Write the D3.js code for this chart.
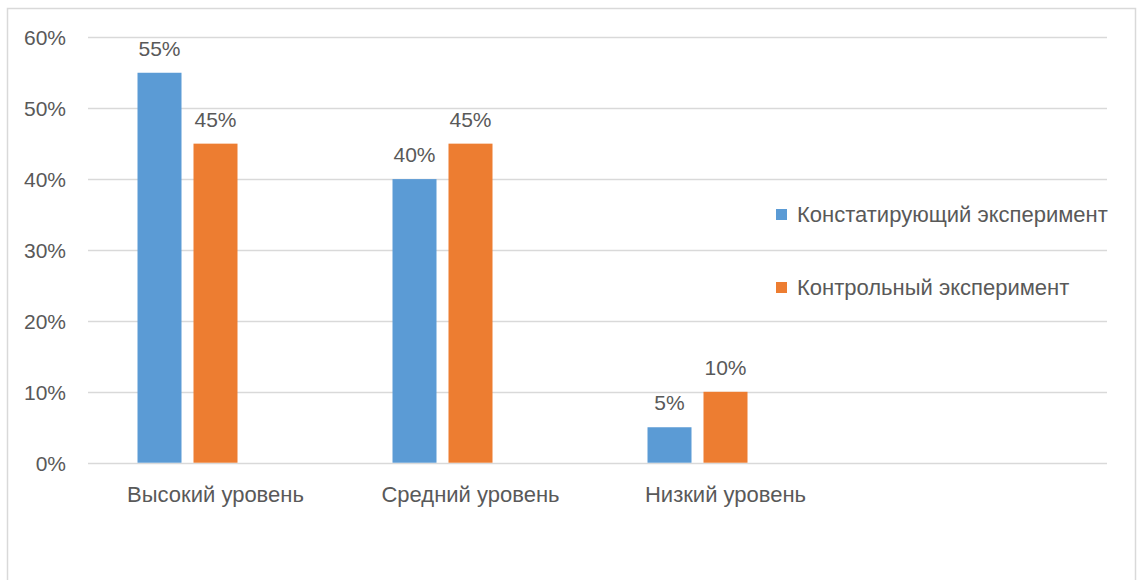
<!DOCTYPE html>
<html><head><meta charset="utf-8">
<script src="https://cdn.jsdelivr.net/npm/d3@7"></script>
<style>body{margin:0;background:#fff}svg text{font-family:"Liberation Sans","Noto Sans",sans-serif;fill:#595959}</style>
</head><body><svg id="c" width="1137" height="580"></svg>
<script>
const categories = ["Высокий уровень", "Средний уровень", "Низкий уровень"];
const seriesNames = ["Констатирующий эксперимент", "Контрольный эксперимент"];
const seriesConst = [0.55, 0.40, 0.05];
const seriesControl = [0.45, 0.45, 0.10];
const colors = ["#5B9BD5", "#ED7D31"];
const yTicks = [0, 0.1, 0.2, 0.3, 0.4, 0.5, 0.6];
const FS = "21px", FS2 = "22px";

const svg = d3.select("#c");
svg.append("rect").attr("x",7.5).attr("y",8.5).attr("width",1128).attr("height",600)
  .attr("fill","#fff").attr("stroke","#d9d9d9").attr("stroke-width",1.5);

const left = 88, bandW = 255, gridRight = 1107;
const x0 = d3.scaleBand().domain(categories).range([left, left + bandW*categories.length]).paddingInner(0).paddingOuter(0);
const x1 = d3.scaleBand().domain([0,1,2]).range([0, bandW]).paddingInner(12/56).paddingOuter(0.884);
const y = d3.scaleLinear().domain([0, 0.6]).range([462.7, 37.3]);

svg.append("g").selectAll("line").data(yTicks).join("line")
  .attr("x1", left).attr("x2", gridRight)
  .attr("y1", d => Math.round(y(d))+0.5).attr("y2", d => Math.round(y(d))+0.5)
  .attr("stroke", "#d9d9d9").attr("stroke-width", 1.3);

const yAxis = d3.axisLeft(y).tickValues(yTicks).tickFormat(d3.format(".0%")).tickSize(0).tickPadding(0);
const ya = svg.append("g").attr("transform","translate(66,0)").call(yAxis);
ya.select(".domain").remove();
ya.selectAll("text").style("font-size",FS).attr("fill","#595959").attr("dy","0.35em");

const series = [seriesConst, seriesControl];
const g = svg.append("g");
series.forEach((vals, si) => {
  g.selectAll(".b"+si).data(vals).join("rect")
    .attr("x", (d,i) => x0(categories[i]) + x1(si))
    .attr("width", x1.bandwidth())
    .attr("y", d => y(d)).attr("height", d => y(0) - y(d))
    .attr("fill", colors[si]);
  g.selectAll(".l"+si).data(vals).join("text")
    .attr("x", (d,i) => x0(categories[i]) + x1(si) + x1.bandwidth()/2)
    .attr("y", d => y(d) - 17)
    .attr("text-anchor","middle").style("font-size",FS)
    .text(d => d3.format(".0%")(d));
});

const xAxis = d3.axisBottom(x0).tickSize(0).tickPadding(0);
const xa = svg.append("g").attr("transform","translate(0,502)").call(xAxis);
xa.select(".domain").remove();
xa.selectAll("text").style("font-size",FS2).attr("fill","#595959").attr("dy","0");

const legY = [214.5, 287.5];
const lg = svg.append("g");
seriesNames.forEach((n, i) => {
  lg.append("rect").attr("x", 776).attr("y", legY[i]-5.5).attr("width", 11).attr("height", 11).attr("fill", colors[i]);
  lg.append("text").attr("x", 797).attr("y", legY[i]).attr("dy","0.35em").style("font-size",FS2).text(n);
});
</script></body></html>
